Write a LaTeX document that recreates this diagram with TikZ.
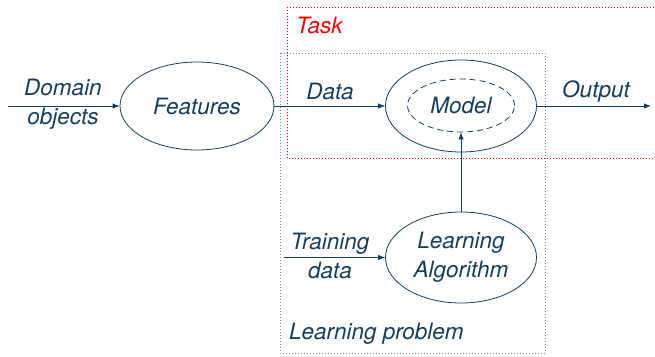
\documentclass[tikz,border=0pt]{standalone}
\usepackage{fontspec}
\setmainfont{TeX Gyre Heros}
\usetikzlibrary{shapes.geometric,arrows.meta}
\definecolor{navy}{RGB}{22,62,96}
\definecolor{boxgray}{RGB}{120,140,160}
\tikzset{
  ell/.style={ellipse,draw=navy,line width=0.8pt,inner sep=0pt},
  lbl/.style={text=navy,font=\fontsize{22.5}{26}\selectfont\itshape,inner sep=0pt},
  arr/.style={draw=navy,line width=0.8pt,-{Latex[length=7pt,width=5.5pt]}},
}
\begin{document}
\begin{tikzpicture}[x=1pt,y=-1pt]
\useasboundingbox (0,0) rectangle (655,356);
% boxes
\draw[red,dotted,line width=1pt] (287,7) -- (660,7) (287,7) -- (287,158) -- (660,158);
\draw[boxgray,dotted,line width=1pt] (280,53) rectangle (545,353);
\node[lbl,text=red,anchor=west] (task) at (296,25) {Task};
\node[lbl,anchor=west] (lp) at (289,334) {Learning problem};
% ellipses
\node[ell,minimum width=154pt,minimum height=88pt] (feat) at (197,106) {};
\node[lbl] at (feat) {Features};
\node[ell,minimum width=151pt,minimum height=92pt] (model) at (461,106) {};
\node[ell,dashed,dash pattern=on 6pt off 4pt,minimum width=107pt,minimum height=53pt] (inner) at (461,105.5) {};
\node[lbl] at (inner) {Model};
\node[ell,minimum width=151pt,minimum height=91pt] (alg) at (461,257.5) {};
\node[lbl,align=center] at (alg) {Learning\\[3pt]Algorithm};
% coordinates
\coordinate (din) at (8,106);
\coordinate (out) at (651,106);
\coordinate (tin) at (284,257.5);
% arrows
\draw[arr] (din) -- (feat.west);
\node[lbl,align=center] (dom) at (63,104) {Domain\\[3pt]objects};
\draw[arr] (feat.east) -- (model.west);
\node[lbl] (data) at (330,91) {Data};
\draw[arr] (model.east) -- (out);
\node[lbl] (outp) at (596,91) {Output};
\draw[arr] (tin) -- (alg.west);
\node[lbl,align=center] (td) at (330,256) {Training\\[3pt]data};
\draw[arr] (alg.north) -- (inner.south);
\end{tikzpicture}
\end{document}
